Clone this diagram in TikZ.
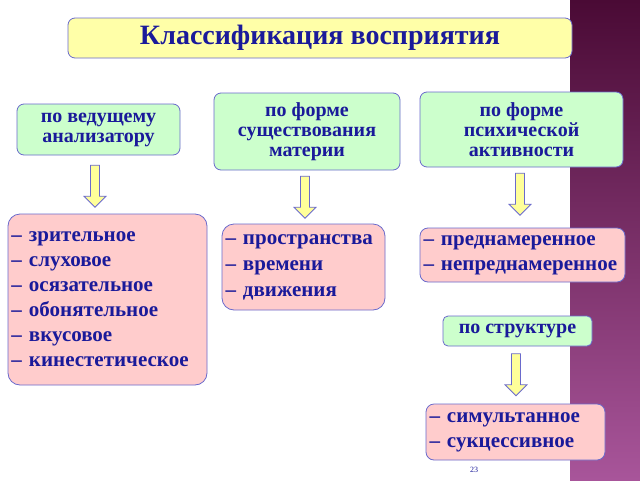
\documentclass[tikz,border=0pt]{standalone}
\usepackage{fontspec}
\setmainfont{Liberation Serif}
\usetikzlibrary{shapes.arrows}
\definecolor{tx}{HTML}{1A1A9A}
\definecolor{bd}{HTML}{6A6ACC}
\definecolor{yel}{HTML}{FFFFA8}
\definecolor{grn}{HTML}{CCFFCC}
\definecolor{pnk}{HTML}{FFCCCC}
\definecolor{arr}{HTML}{FFFF99}
\definecolor{bgt}{HTML}{4A0A35}
\definecolor{bgb}{HTML}{A8559A}
\begin{document}
\begin{tikzpicture}[x=1pt,y=-1pt,
  box/.style={draw=bd,line width=0.8pt,rounded corners=7pt,text=tx,font=\bfseries\fontsize{20}{20}\selectfont,align=center,inner sep=0pt},
  lst/.style={box,fill=pnk,align=left,font=\bfseries\fontsize{21}{25}\selectfont,rounded corners=12pt},
  dn/.style={draw=bd,line width=0.8pt,fill=arr,single arrow,shape border rotate=270,minimum width=22pt,single arrow head extend=5pt,single arrow tip angle=90,minimum height=42pt,inner sep=3pt}]
\useasboundingbox (0,0) rectangle (640,480);
\fill[white] (0,0) rectangle (570,480);
\shade[top color=bgt,bottom color=bgb] (570,0) rectangle (640,480);
\node[box,fill=yel,minimum width=504pt,minimum height=40pt,font=\bfseries\fontsize{28}{30}\selectfont] (t) at (320,38) {Классификация восприятия};
\node[box,fill=grn,minimum width=163pt,minimum height=51pt] (a) at (98.5,129.5) {по ведущему\\анализатору};
\node[box,fill=grn,minimum width=186pt,minimum height=77pt] (b) at (307,131.5) {по форме\\существования\\материи};
\node[box,fill=grn,minimum width=203pt,minimum height=75pt] (c) at (521.5,129.5) {по форме\\психической\\активности};
\node[dn] (a1) at (95,184) {};
\node[dn] (b1) at (305,195) {};
\node[dn] (c1) at (520,192) {};
\node[lst,minimum width=199pt,minimum height=171pt,text width=192pt] (l1) at (107.5,299.5) {– зрительное\\– слуховое\\– осязательное\\– обонятельное\\– вкусовое\\– кинестетическое};
\node[lst,minimum width=163pt,minimum height=86pt,text width=156pt,font=\bfseries\fontsize{21}{26}\selectfont] (l2) at (303.5,267) {– пространства\\– времени\\– движения};
\node[lst,minimum width=205pt,minimum height=54pt,text width=198pt,font=\bfseries\fontsize{21}{25}\selectfont,rounded corners=8pt] (l3) at (522.5,255) {– преднамеренное\\– непреднамеренное};
\node[box,fill=grn,minimum width=149pt,minimum height=30pt,rounded corners=5pt] (s) at (517.5,331) {по структуре};
\node[dn] (s1) at (516,372.5) {};
\node[lst,minimum width=179pt,minimum height=56pt,text width=172pt,font=\bfseries\fontsize{21}{25}\selectfont,rounded corners=8pt] (l4) at (515.5,432) {– симультанное\\– сукцессивное};
\node[text=tx,font=\fontsize{8}{9}\selectfont] (n) at (474,470) {23};
\end{tikzpicture}
\end{document}
